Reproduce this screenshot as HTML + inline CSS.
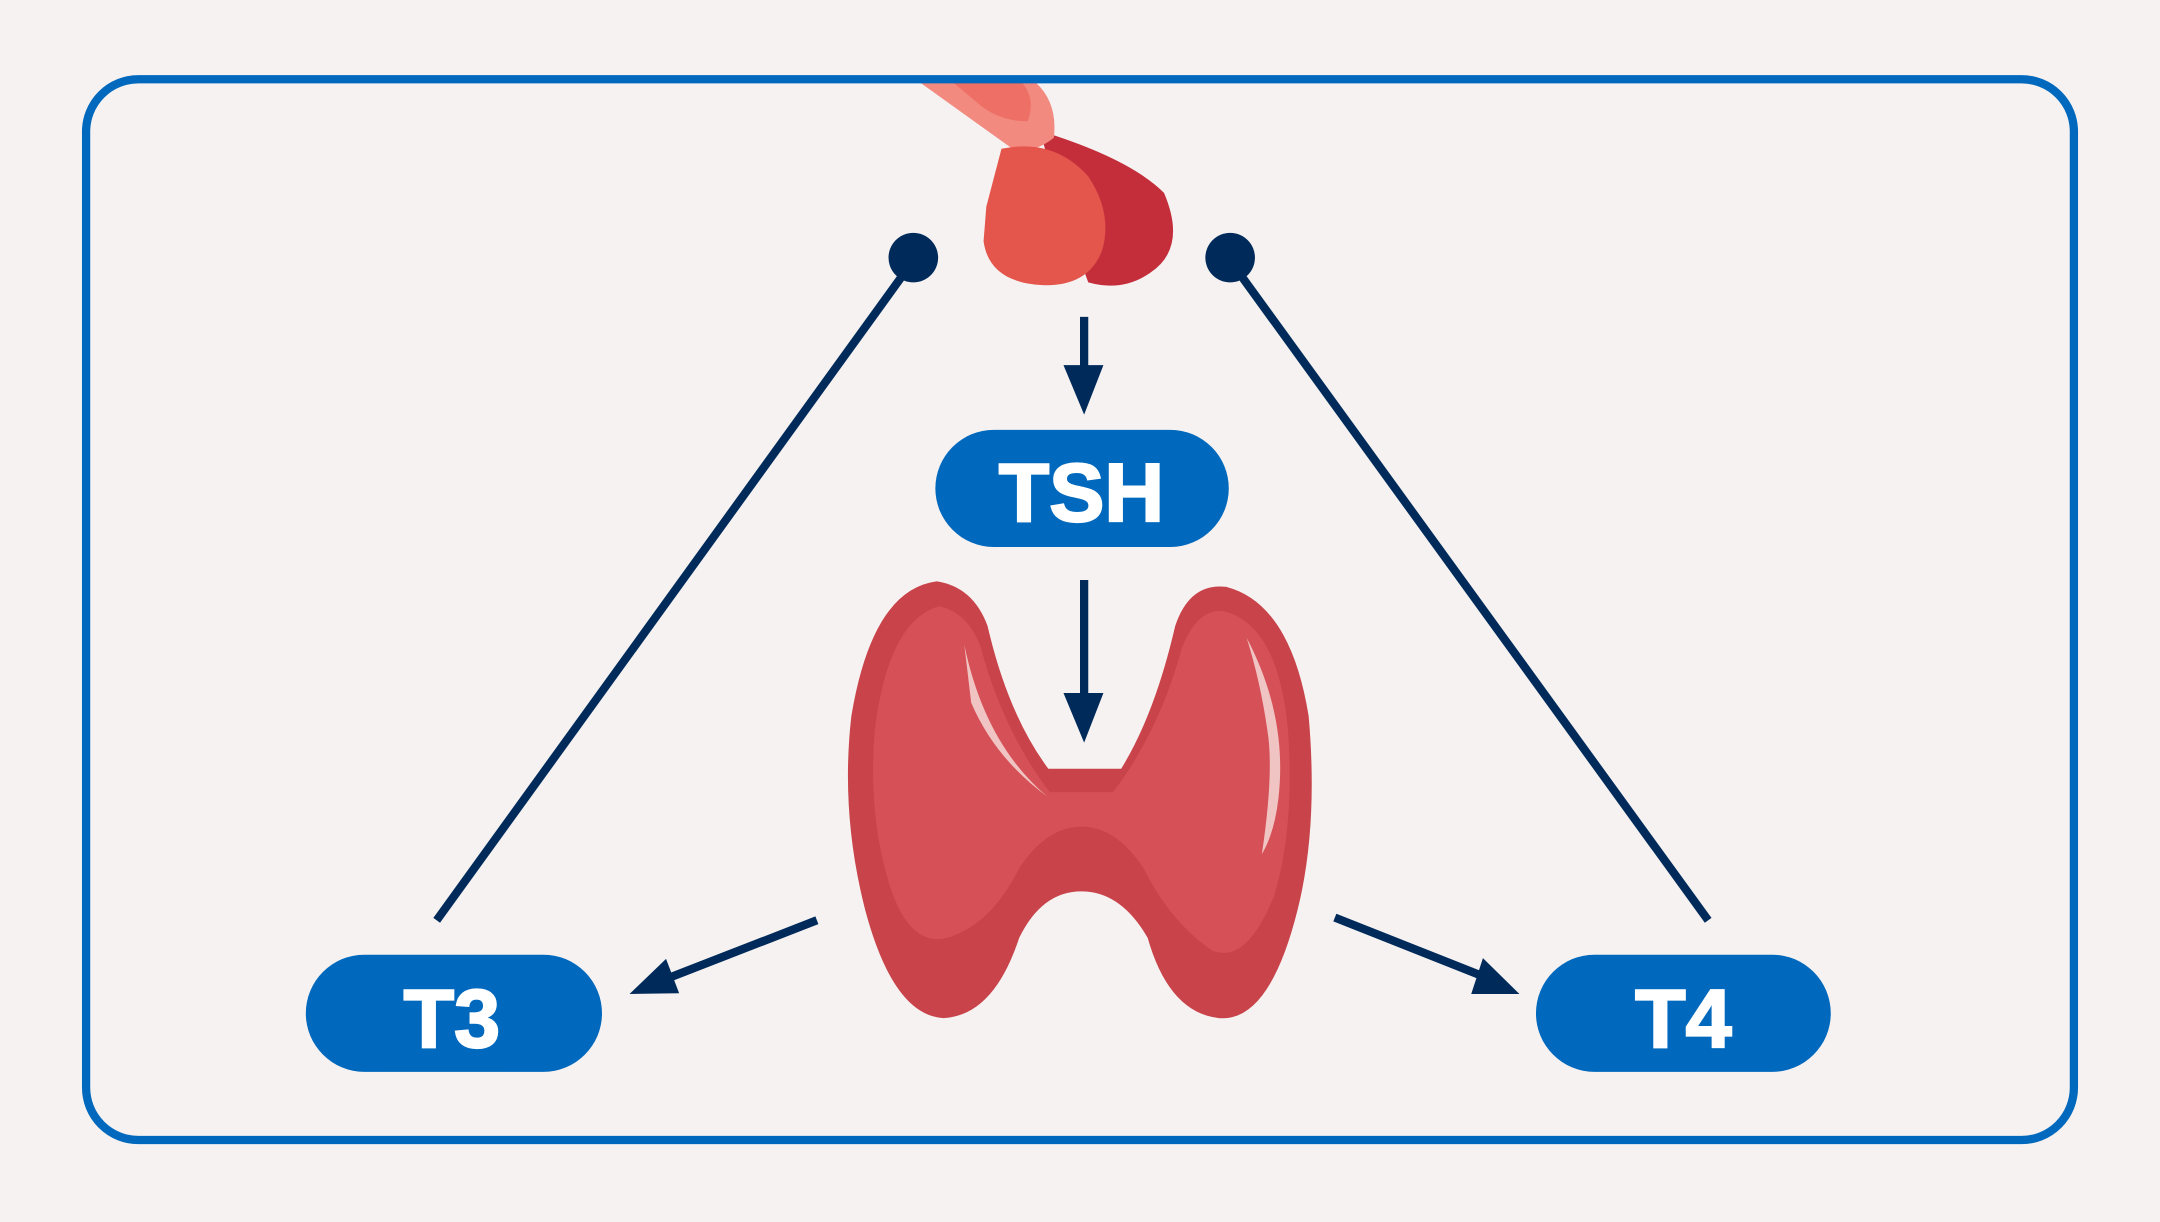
<!DOCTYPE html>
<html><head><meta charset="utf-8"><style>
html,body{margin:0;padding:0;background:#f5f2f1;}
svg{display:block;}
text{font-family:"Liberation Sans",sans-serif;font-weight:bold;fill:#fff;stroke:#fff;stroke-width:1.6;}
</style></head><body>
<svg width="2160" height="1222" viewBox="0 0 1568 887" preserveAspectRatio="none">
<rect x="0" y="0" width="1568" height="887" fill="#f5f2f1"/>
<!-- pituitary -->
<g>
<path d="M755 95 Q820 115 845 140 Q862 180 835 198 Q815 212 790 205 L770 150 Z" fill="#c42e3b"/>
<path d="M668 60 L752 60 Q768 75 765 100 Q750 112 735 108 Z" fill="#f28a80"/>
<path d="M692 60 L742 60 Q752 72 746 88 Q725 88 710 75 Z" fill="#ee6f65"/>
<path d="M727 108 Q765 100 790 128 Q808 155 800 182 Q790 208 757 207 Q718 205 714 175 L716 150 Z" fill="#e4554b"/>
</g>
<!-- thyroid -->
<path d="M680 424 Q705 428 715 455 Q730 520 760 560 L815 560 Q840 520 855 455 Q865 425 890 428 Q935 440 948 520 Q955 600 940 660 Q920 740 885 737 Q850 733 835 680 Q815 645 785 645 Q755 645 738 680 Q720 735 685 737 Q650 735 630 660 Q612 590 620 520 Q635 430 680 424 Z" fill="#c9434a" stroke="#c9434a" stroke-width="4"/>
<path d="M682 440 Q703 445 712 470 Q728 530 762 575 L808 575 Q842 530 858 470 Q870 440 890 444 Q928 455 935 530 Q940 600 925 650 Q905 700 880 690 Q850 670 830 630 Q810 600 785 600 Q760 600 740 630 Q720 670 690 680 Q660 690 645 640 Q630 590 635 530 Q645 450 682 440 Z" fill="#d55057"/>
<path d="M700 468 Q715 540 760 578 Q722 550 705 510 Z" fill="#f0c4c2"/>
<path d="M905 463 Q935 520 928 580 Q925 605 916 620 Q925 560 920 530 Q915 495 905 463 Z" fill="#f0c4c2"/>
<!-- frame -->
<rect x="62.5" y="57.5" width="1443" height="770" rx="38" fill="none" stroke="#0068bd" stroke-width="6"/>
<!-- lines -->
<g stroke="#002a5a" stroke-width="6" fill="none">
<line x1="658" y1="196" x2="317" y2="668"/>
<line x1="898" y1="196" x2="1240" y2="668"/>
<line x1="787" y1="230" x2="787" y2="270"/>
<line x1="787" y1="421" x2="787" y2="508"/>
<line x1="593" y1="668" x2="485" y2="710"/>
<line x1="969" y1="666" x2="1080" y2="710"/>
</g>
<g fill="#002a5a">
<circle cx="663" cy="187" r="18"/>
<circle cx="893" cy="187" r="18"/>
<polygon points="772,265 801,265 787,301"/>
<polygon points="772,503 801,503 787,539"/>
<polygon points="457,721.5 483.5,696 493,721"/>
<polygon points="1103,721.5 1076.5,695.5 1068,721.5"/>
</g>
<!-- pills -->
<g fill="#0068bd">
<rect x="679" y="312" width="213" height="85" rx="42.5"/>
<rect x="222" y="693" width="215" height="85" rx="42.5"/>
<rect x="1115" y="693" width="214" height="85" rx="42.5"/>
</g>
<text x="785" y="378" font-size="60" text-anchor="middle">TSH</text>
<text x="328" y="760" font-size="60" text-anchor="middle">T3</text>
<text x="1222" y="760" font-size="60" text-anchor="middle">T4</text>
</svg>
</body></html>
